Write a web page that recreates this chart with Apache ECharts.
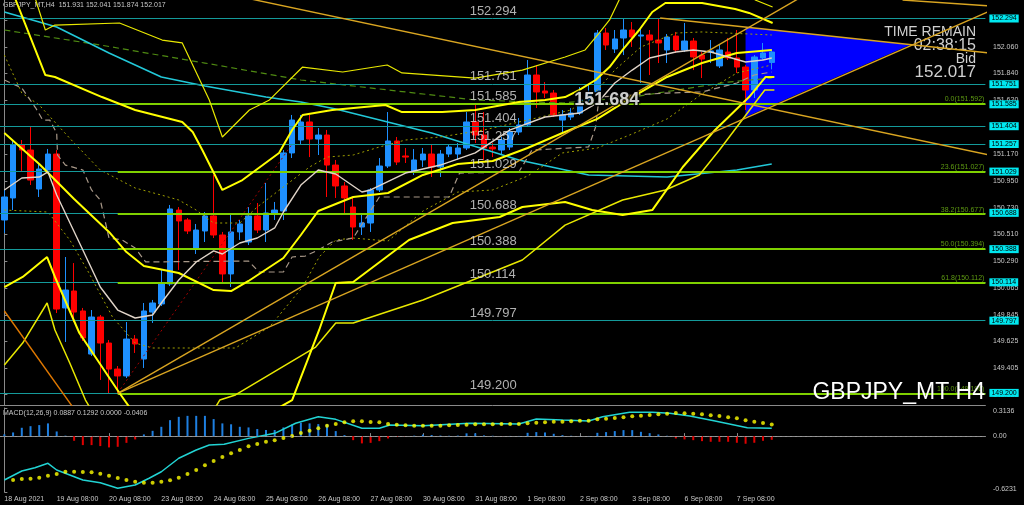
<!DOCTYPE html>
<html><head><meta charset="utf-8">
<script src="https://cdn.jsdelivr.net/npm/echarts@6/dist/echarts.min.js"></script>
<style>html,body{margin:0;padding:0;background:#000;}#c{width:1024px;height:505px;}</style>
</head><body><div id="c"></div>
<script>
// ---------- candles (H4 bars from 18 Aug 08:00) ----------
const candleOpen = [150.629,150.811,151.249,151.207,150.885,151.042,151.174,149.902,150.042,149.877,
149.521,149.827,149.612,149.397,149.340,149.645,149.480,149.868,149.935,150.100,
150.711,150.629,150.389,150.538,150.662,150.505,150.183,150.530,150.447,150.662,
150.546,150.678,150.703,151.183,151.290,151.439,151.298,151.331,151.083,150.910,
150.736,150.571,150.604,150.877,151.075,151.282,151.158,151.026,151.125,151.174,
151.067,151.174,151.174,151.224,151.439,151.331,151.232,151.207,151.232,151.356,
151.414,151.827,151.695,151.678,151.455,151.480,151.513,151.621,151.687,152.174,
152.042,152.133,152.199,152.149,152.158,152.116,152.034,152.149,152.034,152.108,
151.992,152.017,151.902,152.017,151.968,151.893,151.703,151.968,151.931];
const candleHigh = [150.877,151.290,151.290,151.397,151.100,151.216,151.207,150.323,150.273,149.902,
149.885,149.844,149.637,149.422,149.786,149.678,149.943,149.968,150.216,150.753,
150.736,150.645,150.596,150.695,151.001,150.530,150.670,150.629,150.736,150.769,
150.935,150.778,151.207,151.497,151.497,151.497,151.389,151.373,151.125,150.943,
150.811,150.678,150.893,151.141,151.521,151.315,151.224,151.216,151.224,151.249,
151.207,151.249,151.265,151.521,151.592,151.521,151.265,151.315,151.389,151.472,
151.951,151.910,151.769,151.703,151.538,151.554,151.728,151.745,152.199,152.216,
152.199,152.294,152.265,152.224,152.199,152.290,152.166,152.183,152.257,152.133,
152.017,152.116,152.075,152.133,152.199,151.910,151.992,152.092,152.041];
const candleLow = [150.521,150.711,151.026,150.918,150.819,151.026,149.860,149.621,149.786,149.629,
149.505,149.307,149.196,149.200,149.323,149.530,149.406,149.778,149.918,150.083,
150.216,150.513,150.348,150.447,150.480,150.116,150.075,150.464,150.422,150.521,
150.447,150.629,150.629,151.141,151.249,151.149,151.166,150.819,150.811,150.687,
150.464,150.505,150.530,150.860,151.059,151.083,151.100,151.001,151.067,150.984,
150.984,151.149,151.125,151.207,151.265,151.125,151.149,151.166,151.207,151.331,
151.397,151.554,151.637,151.480,151.348,151.455,151.497,151.604,151.662,152.034,
152.009,151.992,152.059,151.761,151.827,151.926,151.926,152.009,152.017,151.868,
151.802,151.926,151.885,151.951,151.844,151.538,151.637,151.951,151.874];
const candleClose = [150.819,151.249,151.207,150.959,151.050,151.174,149.893,150.050,149.868,149.654,
149.827,149.612,149.397,149.340,149.645,149.604,149.877,149.943,150.100,150.720,
150.621,150.538,150.546,150.662,150.505,150.183,150.530,150.596,150.662,150.546,
150.687,150.711,151.183,151.455,151.439,151.298,151.331,151.083,150.910,150.811,
150.571,150.604,150.877,151.075,151.282,151.108,151.149,151.125,151.174,151.067,
151.174,151.232,151.224,151.439,151.331,151.224,151.216,151.290,151.356,151.414,
151.827,151.687,151.678,151.497,151.497,151.513,151.621,151.678,152.174,152.075,
152.125,152.199,152.141,152.158,152.116,152.092,152.141,152.034,152.108,151.976,
151.959,152.026,152.034,151.968,151.893,151.703,151.976,152.009,152.017];

// ---------- time axis ----------
const tickLabels = ['18 Aug 2021','19 Aug 08:00','20 Aug 08:00','23 Aug 08:00','24 Aug 08:00','25 Aug 08:00',
 '26 Aug 08:00','27 Aug 08:00','30 Aug 08:00','31 Aug 08:00','1 Sep 08:00','2 Sep 08:00','3 Sep 08:00','6 Sep 08:00','7 Sep 08:00'];
const barsPerTick = 6;
const slotCount = 113;

// ---------- price axis ----------
const priceTicks = [152.280,152.060,151.840,151.620,151.400,151.170,150.950,150.730,150.510,150.290,150.065,149.845,149.625,149.405,149.185];
const levelValues = [152.294,151.751,151.585,151.404,151.257,151.029,150.688,150.388,150.114,149.797,149.200];
const fibValues = [151.592,151.027,150.677,150.394,150.112,149.196];
const fibNames = ['0.0','23.6','38.2','50.0','61.8','100.0'];
const fibStartBar = 13;
const bidValue = 152.017;
const markedPrice = 151.684;

// ---------- indicator lines (bar index, price) ----------
const midK = [0,4,8,12,14,16,20,24,26,28,32,34,36,40,44,48,52,56,60,64,68,72,76,80,84,88];
const midP = [151.348,151.092,150.802,150.530,150.364,150.249,150.191,150.050,150.042,150.125,150.315,150.505,150.703,150.819,150.852,151.001,151.092,151.116,151.224,151.348,151.464,151.645,151.811,151.926,152.009,152.034];
const whiteK = [0,2,4,5,6,9,11,13,15,17,18,20,22,24,25,27,29,31,32,34,36,38,40,41,42,46,50,54,58,62,66,68,70,72,74,77,79,81,85,87,88];
const whiteP = [150.877,150.976,150.984,151.026,150.835,150.381,150.075,149.885,149.819,149.844,149.943,150.133,150.282,150.373,150.348,150.439,150.480,150.563,150.695,150.918,151.042,151.009,150.910,150.860,150.877,151.017,151.083,151.183,151.373,151.480,151.513,151.596,151.761,151.868,151.968,152.017,152.034,152.017,151.935,151.951,151.968];
const cyanK = [0,6,12,18,23,30,34,38,49,59,67,76,84,88];
const cyanP = [152.348,152.224,152.009,151.811,151.736,151.645,151.604,151.546,151.348,151.125,151.001,150.984,151.042,151.092];
const greenK = [0,11,23,34,54,64,72,83,88];
const greenP = [152.199,152.075,151.926,151.786,151.621,151.596,151.645,151.769,151.802];
const oliveUpK = [0,2,4,8,11,15,18,20,22,24,27,29,32,35,37,40,43,46,50,55,60,65,68,70,73,77,80,88];
const oliveUpP = [151.992,151.678,151.579,151.265,151.042,150.893,150.835,150.794,150.711,150.604,150.604,150.736,150.902,151.067,151.149,151.166,151.232,151.290,151.315,151.373,151.455,151.538,151.703,151.868,152.059,152.174,152.183,152.158];
const oliveLoK = [0,5,7.5,9.7,12.4,15,17,20.4,26.5,30.4,34.2,36.1,38,40,44,48,52,56,60,64,68,72,76,80,84,88];
const oliveLoP = [150.711,150.695,150.464,150.191,149.827,149.612,149.571,149.571,149.571,149.745,150.075,150.323,150.464,150.480,150.455,150.703,150.860,150.877,150.992,151.183,151.224,151.340,151.464,151.670,151.844,151.910];
const up2K = [0,1.3,4.7,5.8,11.2,15,20.4,21.6,22.7,25,27.3,31.5,33,34.2,37.6,43.7,45.6,50.2,54,59,62,64.3,65.9,67.8,69.4,70.9,72.8,74.3,75.8,80,83.8,85.4,88.1];
const up2P = [152.778,152.447,151.827,151.811,151.645,151.538,151.439,151.356,151.207,150.877,150.959,151.183,151.373,151.497,151.538,151.579,151.521,151.521,151.538,151.604,151.621,151.645,151.703,151.786,151.893,152.034,152.199,152.348,152.422,152.422,152.373,152.340,152.257];
const up3K = [2,3.6,4.7,5.8,13.2,18.1,20.4,23.5,25,28.1,30.4,34.2,38.8,43.9,45.6,54,59.4,64.3,66.6,68.2,69.4,70.5,73,84,86.1,88.1];
const up3P = [152.695,152.447,152.199,152.240,152.257,152.116,152.092,151.621,151.315,151.538,151.621,151.893,151.852,151.910,151.844,151.802,151.868,151.976,152.034,152.174,152.282,152.447,152.778,152.700,152.447,152.389];
const lo2K = [0,2.1,4.9,5.8,8.6,13.2,17,25,33,36.1,38,40,46.4,51.4,56.8,59.4,64.3,67.4,70.9,74.3,77.8,81.5,85.4,87.3,88.3];
const lo2P = [150.075,150.158,150.323,150.158,149.695,149.199,148.811,148.811,149.141,149.720,150.108,150.116,150.464,150.604,150.654,150.736,150.778,150.711,150.670,150.711,151.067,151.373,151.645,151.811,151.811];
const lo3K = [0,2.1,4.9,5.8,7.5,9.3,12,22,24.7,26.5,35.7,38,40,48,59.4,64.3,70.9,75.8,79.7,82,87.2,88.3];
const lo3P = [149.430,149.612,149.943,149.720,149.447,149.141,148.811,148.811,149.141,149.183,149.579,149.777,149.777,149.968,150.298,150.587,150.794,150.877,151.001,151.207,151.703,151.703];
const beigeK = [0,2,3.6,4.4,5.2,6,6.1,7,9,10,11,12,13.5,15,16.2,28,29.2,32,33,34.5,36,37.6,40,43,51,52.2,59,60.5,67,67.8,68.2,72,76,80,84,86,88];
const beigeP = [151.786,151.720,151.554,151.455,151.455,151.348,151.166,151.083,151.042,150.877,150.794,150.480,150.464,150.397,150.282,150.290,150.199,150.199,150.323,150.331,150.381,150.447,150.480,150.819,150.819,151.017,151.026,151.207,151.232,151.397,151.645,151.662,151.678,151.687,151.761,151.827,151.852];
const redDotK = [13,33];
const redDotP = [149.199,151.257];
// trend lines
const trend1K = [20,113], trend1P = [152.581,151.166];
const trend3K = [75.2,113], trend3P = [152.298,152.009];
const trend4aK = [13,113], trend4aP = [149.196,153.375];
const trend4bK = [13,113], trend4bP = [149.196,152.356];
const trend5K = [0,8], trend5P = [149.877,149.067];
const trend6K = [103,113.1], trend6P = [152.447,152.397];
// blue triangle
const triK = [85.0,103.9,85.0];
const triP = [152.224,152.078,151.480];

// ---------- MACD ----------
const macdHist = [0.020,0.041,0.093,0.111,0.123,0.142,0.052,0.005,-0.052,-0.100,
-0.100,-0.111,-0.126,-0.119,-0.075,-0.037,0.019,0.059,0.104,0.178,
0.215,0.226,0.226,0.226,0.190,0.142,0.132,0.104,0.097,0.079,
0.068,0.068,0.097,0.130,0.148,0.142,0.134,0.130,0.056,0.011,
-0.045,-0.081,-0.075,-0.056,-0.026,-0.008,-0.004,0.005,0.017,0.012,
0.006,0.004,0.006,0.031,0.031,0.008,0.004,-0.003,0.002,0.002,
0.037,0.045,0.041,0.026,0.011,0.004,0.002,0.002,0.037,0.045,
0.056,0.067,0.067,0.048,0.033,0.019,0.004,-0.026,-0.037,-0.045,
-0.056,-0.063,-0.063,-0.063,-0.074,-0.085,-0.074,-0.052,-0.041];
const macdSignal = [null,-0.489,-0.478,-0.475,-0.464,-0.441,-0.423,-0.397,-0.397,-0.400,
-0.404,-0.419,-0.441,-0.467,-0.489,-0.508,-0.520,-0.520,-0.508,-0.493,
-0.464,-0.423,-0.378,-0.326,-0.278,-0.233,-0.192,-0.155,-0.114,-0.088,
-0.062,-0.047,-0.021,0.001,0.035,0.060,0.087,0.116,0.135,0.154,
0.165,0.165,0.157,0.154,0.135,0.127,0.120,0.116,0.116,0.116,
0.116,0.120,0.124,0.127,0.132,0.132,0.132,0.135,0.135,0.135,
0.143,0.149,0.154,0.161,0.161,0.165,0.172,0.172,0.187,0.194,
0.202,0.210,0.221,0.227,0.235,0.243,0.250,0.258,0.254,0.250,
0.243,0.232,0.224,0.210,0.198,0.176,0.161,0.146,0.129];
const macdLineK = [0,2,3.5,5,6,9,11,13,15,16.6,18,20,22,23.5,25.2,28,31,33.4,36,38,41,43,44.2,48,53.3,59,61,64,67,68.6,71.7,74.3,76.3,78.6,81.5,85.2,88];
const macdLineV = [-0.489,-0.389,-0.352,-0.303,-0.378,-0.489,-0.520,-0.582,-0.545,-0.470,-0.397,-0.247,-0.155,-0.099,-0.091,-0.025,0.031,0.143,0.216,0.187,0.087,0.087,0.124,0.116,0.143,0.135,0.191,0.179,0.168,0.216,0.265,0.265,0.254,0.224,0.168,0.094,0.089];
const macdTicks = [0.3136,0,-0.6231];
const macdTitle = 'MACD(12,26,9) 0.0887 0.1292 0.0000 -0.0406';

// ---------- build ----------
const FONT = 'Liberation Sans';
const categories = [];
for (let i = 0; i < slotCount; i++) {
  const t = i / barsPerTick;
  categories.push(i % barsPerTick === 0 && t < tickLabels.length ? tickLabels[t] : '');
}
const pair = (ks, ps) => ks.map((k, i) => [k, ps[i]]);
const lineS = (ks, ps, color, width, type, z) => ({
  type: 'line', xAxisIndex: 1, yAxisIndex: 0, data: pair(ks, ps), showSymbol: false, symbol: 'none',
  lineStyle: { color: color, width: width, type: type || 'solid' }, z: z || 4, silent: true, clip: true
});
const last = candleClose.length - 1;
const titleText = 'GBPJPY_MT,H4  ' + [candleOpen[last], candleHigh[last], candleLow[last], candleClose[last]].map(v => v.toFixed(3)).join(' ');

const chart = echarts.init(document.getElementById('c'));
const option = {
  backgroundColor: '#000',
  animation: false,
  textStyle: { fontFamily: FONT },
  grid: [
    { left: -2.4, right: 38.6, top: 0, height: 405 },
    { left: -2.4, right: 38.6, top: 408, height: 84 }
  ],
  xAxis: [
    { type: 'category', gridIndex: 0, data: categories, boundaryGap: true,
      axisLine: { show: true, lineStyle: { color: '#8a8a8a' } }, axisTick: { show: false }, axisLabel: { show: false }, splitLine: { show: false } },
    { type: 'value', gridIndex: 0, min: -0.5, max: 112.5, show: false },
    { type: 'category', gridIndex: 1, data: categories, boundaryGap: true,
      axisLine: { show: true, lineStyle: { color: '#8a8a8a' } },
      axisTick: { show: true, inside: true, length: 3, alignWithLabel: true, interval: (i, v) => v !== '', lineStyle: { color: '#8a8a8a' } },
      axisLabel: { interval: (i, v) => v !== '', color: '#c8c8c8', fontSize: 7, fontFamily: FONT, align: 'left', margin: 4 },
      splitLine: { show: false } },
    { type: 'value', gridIndex: 1, min: -0.5, max: 112.5, show: false }
  ],
  yAxis: [
    { type: 'value', gridIndex: 0, min: 149.100, max: 152.447, position: 'right', offset: 2.6,
      axisLine: { show: true, lineStyle: { color: '#8a8a8a' } },
      axisTick: { show: true, length: 3, customValues: priceTicks, lineStyle: { color: '#8a8a8a' } },
      axisLabel: { customValues: priceTicks, formatter: v => v.toFixed(3), color: '#c8c8c8', fontSize: 7, fontFamily: FONT, margin: 5 },
      splitLine: { show: false } },
    { type: 'value', gridIndex: 1, min: -0.6231, max: 0.3136, position: 'right', offset: 2.6,
      axisLine: { show: true, lineStyle: { color: '#8a8a8a' } },
      axisTick: { show: true, length: 3, customValues: macdTicks, lineStyle: { color: '#8a8a8a' } },
      axisLabel: { customValues: macdTicks,
        formatter: v => (v === 0 ? '0.00' : (v > 0 ? '{t|' + v.toFixed(4) + '}' : '{b|' + v.toFixed(4) + '}')),
        rich: { t: { padding: [7, 0, 0, 0], color: '#c8c8c8', fontSize: 7 }, b: { padding: [0, 0, 6, 0], color: '#c8c8c8', fontSize: 7 } },
        color: '#c8c8c8', fontSize: 7, fontFamily: FONT, margin: 5 },
      splitLine: { show: false } }
  ],
  series: [
    // blue triangle object
    { type: 'custom', xAxisIndex: 1, yAxisIndex: 0, data: [[90, 152]], z: 1, silent: true,
      renderItem: (params, api) => ({ type: 'polygon', shape: { points: triK.map((k, i) => api.coord([k, triP[i]])) }, style: { fill: '#0000ff' } }) },
    // cyan horizontal levels
    { type: 'line', xAxisIndex: 1, yAxisIndex: 0, data: [[-10, 150]], symbol: 'none', z: 2, silent: true,
      markLine: { symbol: ['none', 'none'], silent: true, animation: false,
        lineStyle: { color: '#149a9a', width: 1, type: 'solid' },
        label: { show: true, position: 'end', distance: 4, formatter: '{b}', color: '#000', backgroundColor: '#00e8f0', fontSize: 7, fontFamily: FONT, padding: [1, 2, 0, 2] },
        data: levelValues.map(v => [{ coord: [-0.5, v], name: v.toFixed(3) }, { coord: [112.5, v] }]) } },
    // fibonacci levels
    { type: 'line', xAxisIndex: 1, yAxisIndex: 0, data: [[-10, 150]], symbol: 'none', z: 2, silent: true,
      markLine: { symbol: ['none', 'none'], silent: true, animation: false,
        lineStyle: { color: '#7fd000', width: 2, type: 'solid' },
        label: { show: true, position: 'insideEndTop', distance: 1, formatter: '{b}', color: '#5e9a12', fontSize: 7, fontFamily: FONT },
        data: fibValues.map((v, i) => [{ coord: [fibStartBar, v], name: fibNames[i] + '(' + v.toFixed(3) + ')' }, { coord: [112.5, v] }]) } },
    // bid tag
    { type: 'line', xAxisIndex: 1, yAxisIndex: 0, data: [[-10, 150]], symbol: 'none', z: 6, silent: true,
      markLine: { symbol: ['none', 'none'], silent: true, animation: false,
        lineStyle: { opacity: 0 },
        label: { show: true, position: 'end', distance: 4, formatter: '{b}', color: '#000', backgroundColor: '#ffffff', fontSize: 7, fontFamily: FONT, padding: [1, 2, 0, 2] },
        data: [[{ coord: [100, bidValue], name: bidValue.toFixed(3) }, { coord: [112.5, bidValue] }]] } },
    // candles
    { type: 'candlestick', xAxisIndex: 0, yAxisIndex: 0, z: 3, barWidth: 6, silent: true,
      data: candleOpen.map((o, i) => [o, candleClose[i], candleLow[i], candleHigh[i]]),
      itemStyle: { color: '#1e90ff', color0: '#ff0000', borderColor: '#1e90ff', borderColor0: '#ff0000', borderWidth: 1 } },
    // indicators
    lineS(greenK, greenP, '#4f8a12', 1.2, [6, 4], 4),
    lineS(cyanK, cyanP, '#22c8d8', 1.6, 'solid', 4),
    lineS(oliveUpK, oliveUpP, '#a0a000', 1, [2, 3], 4),
    lineS(oliveLoK, oliveLoP, '#a0a000', 1, [2, 3], 4),
    lineS(beigeK, beigeP, '#a89888', 1.2, [6, 4], 4),
    lineS(redDotK, redDotP, '#a00000', 1, [2, 3], 4),
    lineS(up3K, up3P, '#e8e800', 1.2, 'solid', 5),
    lineS(lo3K, lo3P, '#e8e800', 1.5, 'solid', 5),
    lineS(up2K, up2P, '#ffff00', 2, 'solid', 5),
    lineS(lo2K, lo2P, '#ffff00', 2, 'solid', 5),
    lineS(midK, midP, '#ffff00', 2, 'solid', 5),
    lineS(whiteK, whiteP, '#e0d4c8', 1.4, 'solid', 5),
    lineS(trend1K, trend1P, '#d9a521', 1.4, 'solid', 5),
    lineS(trend3K, trend3P, '#d9a521', 1.4, 'solid', 5),
    lineS(trend4aK, trend4aP, '#d9a521', 1.4, 'solid', 5),
    lineS(trend4bK, trend4bP, '#d9a521', 1.4, 'solid', 5),
    lineS(trend6K, trend6P, '#d9a521', 1.4, 'solid', 5),
    lineS(trend5K, trend5P, '#e07800', 1.4, 'solid', 5),
    // level captions inside the chart
    { type: 'scatter', xAxisIndex: 1, yAxisIndex: 0, z: 7, silent: true, symbolSize: 1,
      itemStyle: { color: 'rgba(0,0,0,0)' },
      data: levelValues.map(v => [53.3, v]),
      label: { show: true, position: 'right', distance: 0, offset: [0, -7.5], formatter: p => p.value[1].toFixed(3), color: '#dcdcdc', fontSize: 13, fontFamily: FONT } },
    { type: 'scatter', xAxisIndex: 1, yAxisIndex: 0, z: 8, silent: true, symbolSize: 1,
      itemStyle: { color: 'rgba(0,0,0,0)' },
      data: [[65.3, markedPrice]],
      label: { show: true, position: 'right', distance: 0, offset: [0, 8], formatter: p => p.value[1].toFixed(3), color: '#ffffff', fontSize: 18, fontWeight: 'bold', fontFamily: FONT, textBorderColor: '#000', textBorderWidth: 3 } },
    // MACD
    { type: 'bar', xAxisIndex: 2, yAxisIndex: 1, barWidth: 2, z: 2, silent: true,
      data: macdHist.map(v => ({ value: v, itemStyle: { color: v >= 0 ? '#1e7fe0' : '#e00000' } })),
      markLine: { symbol: ['none', 'none'], silent: true, label: { show: false }, lineStyle: { color: '#9a9a9a', type: [2, 3], width: 1 }, data: [{ yAxis: 0 }] } },
    { type: 'line', xAxisIndex: 3, yAxisIndex: 1, data: pair(macdLineK, macdLineV), symbol: 'none', showSymbol: false, z: 3, silent: true,
      lineStyle: { color: '#22d3d3', width: 1.5 } },
    { type: 'scatter', xAxisIndex: 2, yAxisIndex: 1, symbolSize: 4, z: 4, silent: true, itemStyle: { color: '#ffff00' },
      data: macdSignal.map((v, i) => [i, v]).filter(d => d[1] !== null) }
  ],
  graphic: [
    { type: 'text', x: 3, y: 5, silent: true, style: { text: titleText, fill: '#c8c8c8', fontSize: 7, fontFamily: FONT, verticalAlign: 'middle', textVerticalAlign: 'middle' } },
    { type: 'text', x: 3, y: 413, silent: true, style: { text: macdTitle, fill: '#c8c8c8', fontSize: 7, fontFamily: FONT, verticalAlign: 'middle', textVerticalAlign: 'middle' } },
    { type: 'text', x: 976, y: 32.5, silent: true, style: { text: 'TIME REMAIN', fill: '#d0d0d0', fontSize: 14, fontFamily: FONT, align: 'right', textAlign: 'right', verticalAlign: 'middle', textVerticalAlign: 'middle' } },
    { type: 'text', x: 976, y: 45.5, silent: true, style: { text: '02:38:15', fill: '#d0d0d0', fontSize: 16, fontFamily: FONT, align: 'right', textAlign: 'right', verticalAlign: 'middle', textVerticalAlign: 'middle' } },
    { type: 'text', x: 976, y: 59, silent: true, style: { text: 'Bid', fill: '#d0d0d0', fontSize: 14, fontFamily: FONT, align: 'right', textAlign: 'right', verticalAlign: 'middle', textVerticalAlign: 'middle' } },
    { type: 'text', x: 976, y: 72, silent: true, style: { text: bidValue.toFixed(3), fill: '#d0d0d0', fontSize: 17, fontFamily: FONT, align: 'right', textAlign: 'right', verticalAlign: 'middle', textVerticalAlign: 'middle' } },
    { type: 'text', x: 985, y: 393, silent: true, z: 20, style: { text: 'GBPJPY_MT H4', fill: '#ffffff', fontSize: 23, fontFamily: FONT, align: 'right', textAlign: 'right', verticalAlign: 'middle', textVerticalAlign: 'middle' } }
  ]
};
chart.setOption(option);
</script></body></html>
